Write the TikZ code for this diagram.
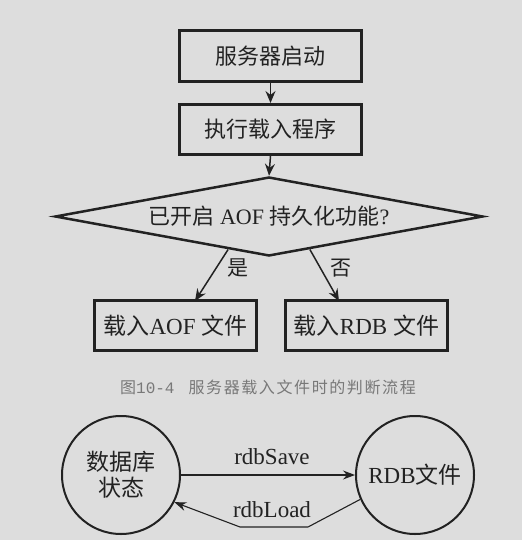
\documentclass[tikz,border=0pt]{standalone}
\usepackage{fontspec}
\setmainfont{Liberation Serif}
\newfontfamily\cjk{Noto Sans CJK SC}
\newfontfamily\capmono{Liberation Mono}
\usetikzlibrary{shapes.geometric,arrows.meta,calc}
\definecolor{bgc}{RGB}{221,221,221}
\definecolor{ink}{RGB}{34,34,34}
\definecolor{capc}{RGB}{120,120,120}
\begin{document}
\begin{tikzpicture}[x=1pt,y=-1pt,
  box/.style={draw=ink,line width=3pt,rectangle,inner sep=0pt,text=ink,
    font=\fontsize{22}{26}\selectfont},
  dia/.style={draw=ink,line width=2.5pt,diamond,aspect=5.4,inner sep=0pt,
    minimum width=428pt,minimum height=79pt,text=ink,font=\fontsize{22}{26}\selectfont},
  arr/.style={draw=ink,line width=1.5pt,-{Stealth[length=12pt,width=10pt,inset=4pt]}},
  thin arr/.style={draw=ink,line width=1.1pt,-{Stealth[length=12pt,width=9pt,inset=4pt]}},
  circ/.style={draw=ink,line width=2pt,circle,minimum size=118pt,inner sep=0pt,text=ink,
    font=\fontsize{23}{27}\selectfont,align=center},
  lbl/.style={text=ink,inner sep=0pt,font=\fontsize{21}{24}\selectfont},
  rlbl/.style={text=ink,inner sep=0pt,font=\fontsize{23}{26}\selectfont}]
\fill[bgc] (0,0) rectangle (522,540);
\useasboundingbox (0,0) rectangle (522,540);

\node[box,minimum width=182pt,minimum height=51pt] (b1) at (270.5,56) {\cjk 服务器启动};
\node[box,minimum width=182pt,minimum height=50pt] (b2) at (270.5,129.5) {\cjk 执行载入程序};
\node[dia] (d) at (269,216.5) {{\cjk 已开启} AOF {\cjk 持久化功能}?};
\node[box,minimum width=162pt,minimum height=50pt,font=\fontsize{23}{26}\selectfont] (aof) at (175.5,325.5) {{\cjk 载入}AOF {\cjk 文件}};
\node[box,minimum width=162pt,minimum height=50pt,font=\fontsize{23}{26}\selectfont] (rdb) at (366.5,325.5) {{\cjk 载入}RDB {\cjk 文件}};

\draw[arr] (b1.south) -- (b2.north);
\draw[arr] (b2.south) -- (d.north);
\coordinate (dl) at ($(d.west)!0.81!(d.south)$);
\coordinate (dr) at ($(d.south)!0.19!(d.east)$);
\draw[arr] (dl) -- ([xshift=19.5pt,yshift=-2pt]aof.north);
\draw[arr] (dr) -- ([xshift=-27.5pt,yshift=-2pt]rdb.north);
\node[lbl] (yes) at (238,268) {\cjk 是};
\node[lbl] (no) at (341,268) {\cjk 否};

\node[text=capc,inner sep=0pt,font=\fontsize{16}{20}\selectfont] (cap) at (268,387)
  {{\cjk 图}{\capmono 10-4}\hspace{14pt}{\cjk\addfontfeature{LetterSpace=10} 服务器载入文件时的判断流程}};

\node[circ] (db) at (121,475) {{\cjk 数据库}\\[-1pt]{\cjk 状态}};
\node[circ] (rf) at (415,475) {RDB{\cjk 文件}};

\draw[thin arr] (db.east) -- (rf.west);
\node[rlbl] (save) at (272,457) {rdbSave};
\coordinate (p1) at (308,527);
\coordinate (p2) at (240,527);
\draw[thin arr] (rf.204) -- (p1) -- (p2) -- (db.333);
\node[rlbl] (load) at (272,510) {rdbLoad};
\end{tikzpicture}
\end{document}
